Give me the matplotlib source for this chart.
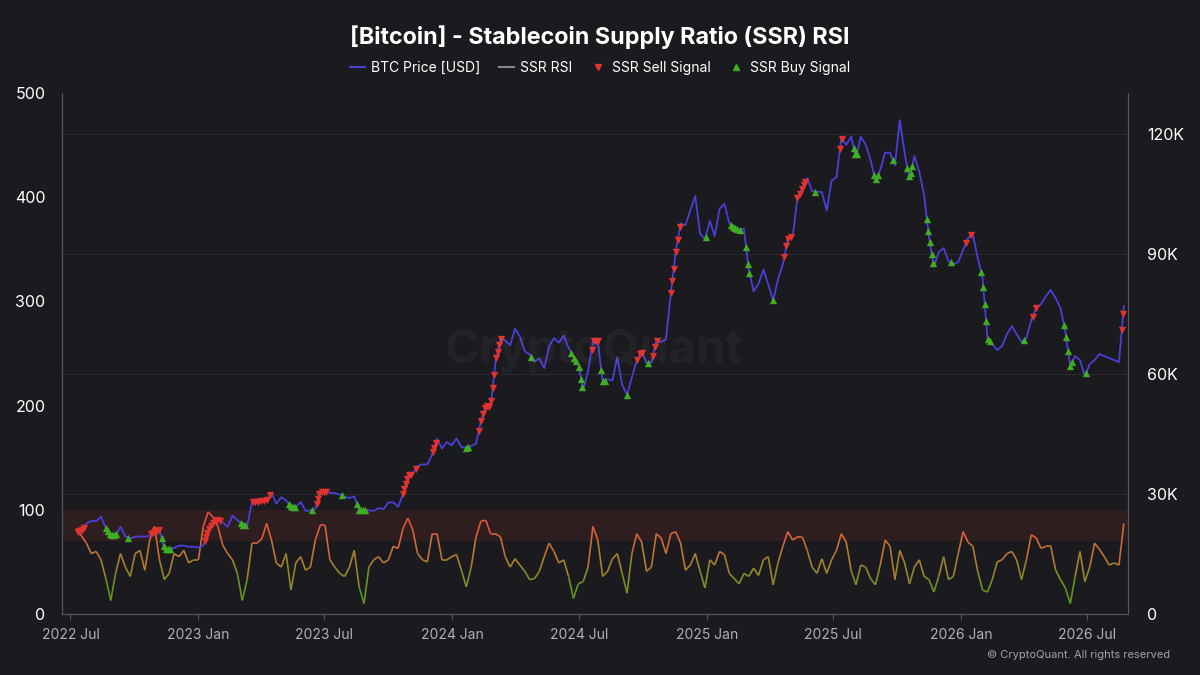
import numpy as np
import pandas as pd
import matplotlib
matplotlib.use('Agg')
import matplotlib.pyplot as plt
import matplotlib.dates as mdates
from matplotlib.collections import LineCollection
from matplotlib.colors import LinearSegmentedColormap, Normalize
from matplotlib.lines import Line2D
from matplotlib.ticker import FuncFormatter

# fechas semanales (una muestra cada 7 dias)
fechas = pd.date_range('2022-07-10', periods=216, freq='7D')

# precio BTC en miles de USD
precio = [20.5, 20.8, 22.6, 23.3, 23.2, 24.3, 21.5, 19.8, 19.8, 21.8,
          19.4, 18.9, 19.3, 19.4, 19.3, 19.6, 20.6, 20.9, 16.3, 16.3,
          16.5, 17.1, 17.1, 16.8, 16.8, 16.6, 17.1, 20.9, 22.7, 23.7,
          22.9, 21.8, 24.6, 23.5, 22.4, 22.0, 28.0, 27.9, 28.2, 28.3,
          30.3, 27.6, 29.2, 28.4, 26.9, 26.8, 28.0, 25.8, 25.9, 26.3,
          30.5, 30.6, 30.3, 30.2, 29.9, 29.3, 29.0, 29.4, 26.1, 26.0,
          25.9, 25.8, 26.5, 26.2, 27.9, 27.9, 26.8, 29.9, 34.5, 35.0,
          37.0, 37.4, 37.4, 39.9, 43.8, 41.4, 43.0, 42.2, 43.9, 41.7,
          41.6, 42.0, 42.6, 48.3, 52.1, 51.7, 63.1, 68.9, 68.4, 67.2,
          71.3, 69.4, 65.7, 64.9, 63.1, 63.9, 61.5, 66.9, 69.0, 67.8,
          69.6, 66.6, 64.3, 62.7, 55.9, 60.8, 68.2, 68.2, 58.1, 58.7,
          58.4, 64.2, 57.3, 54.8, 59.1, 63.5, 65.6, 62.8, 62.9, 68.4,
          68.0, 68.7, 80.3, 90.6, 97.7, 97.2, 101.0, 104.5, 95.1, 93.7,
          98.3, 94.5, 101.3, 102.6, 97.7, 96.5, 96.1, 96.3, 86.0, 80.7,
          82.6, 86.1, 82.4, 78.4, 83.7, 87.5, 93.8, 94.3, 104.1, 106.5,
          109.0, 105.7, 105.6, 105.5, 100.9, 108.4, 109.2, 119.1, 117.3, 119.4,
          114.2, 119.3, 117.4, 113.5, 108.3, 111.1, 115.4, 115.3, 112.2, 123.5,
          115.2, 108.7, 114.5, 110.6, 104.7, 94.2, 86.8, 90.5, 91.5, 88.2,
          87.5, 88.0, 91.0, 94.0, 95.0, 89.0, 84.0, 69.0, 67.5, 66.0,
          67.0, 70.0, 72.0, 70.0, 68.0, 69.0, 73.5, 76.5, 77.5, 79.5,
          81.0, 79.0, 76.5, 70.5, 62.0, 64.5, 63.5, 59.5, 62.5, 63.5,
          65.0, 64.5, 64.0, 63.5, 63.0, 77.0]

# SSR RSI
rsi = [80, 75, 68, 58, 60, 52, 34, 13, 39, 58,
       45, 36, 58, 61, 42, 71, 84, 52, 33, 39,
       58, 55, 61, 49, 52, 52, 84, 98, 93, 84,
       66, 58, 52, 39, 13, 33, 68, 68, 72, 87,
       71, 49, 45, 58, 23, 49, 55, 42, 45, 71,
       85, 85, 52, 45, 39, 36, 45, 61, 26, 10,
       45, 52, 55, 49, 52, 65, 63, 82, 92, 81,
       58, 52, 50, 77, 77, 52, 52, 55, 57, 42,
       26, 45, 74, 89, 90, 77, 77, 74, 55, 45,
       53, 47, 41, 33, 34, 41, 55, 68, 60, 49,
       52, 36, 15, 29, 31, 45, 84, 71, 36, 41,
       53, 58, 39, 20, 58, 77, 69, 41, 45, 77,
       73, 58, 77, 79, 68, 42, 47, 58, 41, 25,
       52, 47, 60, 57, 39, 34, 29, 39, 36, 44,
       37, 52, 55, 28, 49, 65, 79, 71, 74, 74,
       61, 45, 39, 53, 39, 52, 61, 77, 69, 42,
       28, 47, 45, 34, 28, 47, 71, 65, 33, 61,
       49, 29, 45, 52, 36, 33, 21, 36, 55, 33,
       36, 58, 79, 69, 65, 41, 23, 21, 33, 50,
       52, 58, 60, 52, 33, 52, 76, 73, 63, 65,
       65, 42, 33, 25, 10, 36, 60, 31, 45, 68,
       62, 55, 47, 49, 47, 87]

ventas = ['2022-07-12', '2022-07-14', '2022-07-16', '2022-07-18', '2022-07-20',
          '2022-10-25', '2022-10-28', '2022-10-31', '2022-11-03', '2022-11-06',
          '2023-01-10', '2023-01-12', '2023-01-14', '2023-01-16', '2023-01-19',
          '2023-01-22', '2023-01-25', '2023-01-28', '2023-02-01',
          '2023-03-20', '2023-03-24', '2023-03-28', '2023-04-01', '2023-04-05',
          '2023-04-10', '2023-04-14',
          '2023-06-20', '2023-06-22', '2023-06-24', '2023-06-27', '2023-07-01', '2023-07-04',
          '2023-10-22', '2023-10-24', '2023-10-26', '2023-10-28', '2023-10-31',
          '2023-11-03', '2023-11-09',
          '2023-12-04', '2023-12-06', '2023-12-08',
          '2024-02-08', '2024-02-11', '2024-02-14', '2024-02-17', '2024-02-20',
          '2024-02-23', '2024-02-26', '2024-02-28', '2024-03-01', '2024-03-04',
          '2024-03-06', '2024-03-08', '2024-03-11',
          '2024-07-19', '2024-07-22', '2024-07-25', '2024-07-28',
          '2024-09-22', '2024-09-27', '2024-09-30',
          '2024-10-15', '2024-10-18', '2024-10-21',
          '2024-11-10', '2024-11-12', '2024-11-14', '2024-11-17', '2024-11-20', '2024-11-23',
          '2025-04-22', '2025-04-25', '2025-04-28', '2025-05-02',
          '2025-05-11', '2025-05-14', '2025-05-17', '2025-05-20', '2025-05-22',
          '2025-07-11', '2025-07-14',
          '2026-01-08', '2026-01-16',
          '2026-04-14', '2026-04-19',
          '2026-08-20', '2026-08-22']

compras = ['2022-08-21', '2022-08-24', '2022-08-27', '2022-08-30', '2022-09-02', '2022-09-05',
           '2022-09-22',
           '2022-11-09', '2022-11-12', '2022-11-15', '2022-11-18', '2022-11-21',
           '2023-03-03', '2023-03-06', '2023-03-09',
           '2023-05-11', '2023-05-14', '2023-05-17', '2023-05-20',
           '2023-06-13', '2023-07-26',
           '2023-08-17', '2023-08-20', '2023-08-23', '2023-08-26', '2023-08-29',
           '2024-01-21', '2024-01-23', '2024-04-23',
           '2024-06-20', '2024-06-24', '2024-06-27', '2024-07-01', '2024-07-04', '2024-07-06',
           '2024-08-02', '2024-08-05', '2024-08-07',
           '2024-09-08', '2024-10-08', '2024-12-30',
           '2025-02-04', '2025-02-07', '2025-02-10', '2025-02-13', '2025-02-17',
           '2025-02-26', '2025-03-01', '2025-03-03',
           '2025-04-06', '2025-06-05',
           '2025-07-31', '2025-08-02', '2025-08-04',
           '2025-08-29', '2025-09-01', '2025-09-04',
           '2025-09-25',
           '2025-10-16', '2025-10-18', '2025-10-21', '2025-10-23',
           '2025-11-13', '2025-11-15', '2025-11-17', '2025-11-20', '2025-11-22',
           '2025-12-17',
           '2026-01-30', '2026-02-02', '2026-02-04', '2026-02-06', '2026-02-09', '2026-02-12',
           '2026-04-01',
           '2026-05-29', '2026-06-01', '2026-06-04', '2026-06-07', '2026-06-10',
           '2026-06-30']

fondo = '#1a1a1f'
morado = '#4a3fd6'
rojo = '#e0332f'
verde = '#3fae23'

plt.rcParams['font.family'] = ['Inter', 'DejaVu Sans']

fig = plt.figure(figsize=(12, 6.75), dpi=100, facecolor=fondo)
ax = fig.add_axes([0.0517, 0.0904, 0.8883, 0.7716])
ax.set_facecolor(fondo)
ax2 = ax.twinx()

xs = mdates.date2num(fechas)
rsi_arr = np.array(rsi, dtype=float)

# banda de sobrecompra
ax.axhspan(70, 100, color='#e0402f', alpha=0.11, lw=0, zorder=1)

# RSI con gradiente de color segun el valor
cmap = LinearSegmentedColormap.from_list('rsi', ['#3c9e1c', '#7a8f26', '#b07e30', '#d8623a', '#e84a3a'])
puntos = np.column_stack([xs, rsi_arr]).reshape(-1, 1, 2)
segs = np.concatenate([puntos[:-1], puntos[1:]], axis=1)
lc = LineCollection(segs, cmap=cmap, norm=Normalize(10, 95), linewidth=1.2, zorder=2)
lc.set_array((rsi_arr[:-1] + rsi_arr[1:]) / 2)
ax.add_collection(lc)

ax.set_ylim(0, 500)
ax.set_yticks(range(0, 501, 100))
ax.set_xlim(mdates.date2num(pd.Timestamp('2022-06-19')), mdates.date2num(pd.Timestamp('2026-08-29')))

# precio y senales
ax2.plot(fechas, precio, color=morado, lw=1.3, zorder=3)
xv = mdates.date2num(pd.to_datetime(ventas))
xc = mdates.date2num(pd.to_datetime(compras))
ax2.scatter(xv, np.interp(xv, xs, precio), marker='v', s=28, color=rojo, lw=0, zorder=4)
ax2.scatter(xc, np.interp(xc, xs, precio), marker='^', s=28, color=verde, lw=0, zorder=4)
ax2.set_ylim(0, 130.25)
ax2.set_yticks([0, 30, 60, 90, 120])
ax2.yaxis.set_major_formatter(FuncFormatter(lambda v, p: '0' if v == 0 else '{:.0f}K'.format(v)))
ax2.grid(axis='y', color='#2a2a31', lw=0.8)
ax2.set_axisbelow(True)

ax.xaxis.set_major_locator(mdates.MonthLocator(bymonth=[1, 7]))
ax.xaxis.set_major_formatter(mdates.DateFormatter('%Y %b'))

for a in (ax, ax2):
    for s in a.spines.values():
        s.set_color('#55555c')
    a.spines['top'].set_visible(False)
ax.tick_params(axis='x', colors='#55555c', labelcolor='#b0b0b6', labelsize=10, length=4, pad=6)
ax.tick_params(axis='y', colors=fondo, labelcolor='white', labelsize=11.5, length=0, pad=12)
ax2.tick_params(axis='y', labelcolor='white', labelsize=11.5, length=0, pad=14)

fig.text(0.495, 0.48, 'CryptoQuant', fontsize=34, fontweight='bold', color='white',
         alpha=0.04, ha='center', va='center')

fig.suptitle('[Bitcoin] - Stablecoin Supply Ratio (SSR) RSI', y=0.945, x=0.5,
             fontsize=16.8, fontweight='bold', color='white', va='center')

handles = [Line2D([], [], color=morado, lw=1.5),
           Line2D([], [], color='#888890', lw=1.5),
           Line2D([], [], marker='v', color=rojo, lw=0, markersize=4),
           Line2D([], [], marker='^', color=verde, lw=0, markersize=4)]
etiquetas = ['BTC Price [USD]', 'SSR RSI', 'SSR Sell Signal', 'SSR Buy Signal']
fig.legend(handles, etiquetas, loc='center', bbox_to_anchor=(0.5, 0.899), ncol=4,
           frameon=False, fontsize=10, labelcolor='white', handlelength=1.1,
           handletextpad=0.45, columnspacing=1.3)

fig.text(0.975, 0.03, '\u00a9 CryptoQuant. All rights reserved', ha='right', va='center',
         color='#a0a0a6', fontsize=8)

fig.savefig('out.png', dpi=100, facecolor=fondo)
